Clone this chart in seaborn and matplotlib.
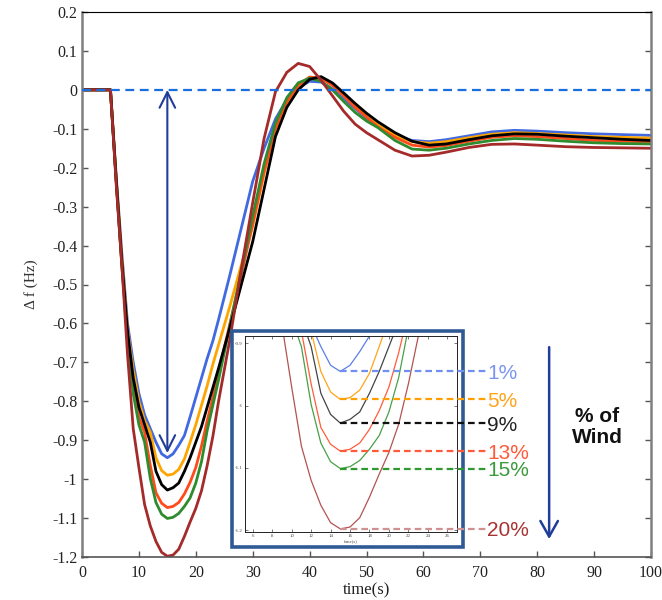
import numpy as np
import pandas as pd
import matplotlib
matplotlib.use("Agg")
import matplotlib.pyplot as plt
import seaborn as sns
from matplotlib.patches import Rectangle

# ---------------- data ----------------
time_s = [0, 5, 6, 7, 8, 9, 10, 11, 12, 13, 14, 15, 16, 17, 18, 19, 20, 21, 22, 23, 24,
          26, 28, 30, 32, 34, 36, 38, 40, 42, 44, 46, 48, 50, 52,
          55, 58, 61, 64, 68, 72, 76, 80, 85, 90, 95, 100]

wind_1 = [0, 0, -0.22, -0.42, -0.60, -0.70, -0.78, -0.835, -0.87, -0.905, -0.935, -0.945, -0.935,
          -0.913, -0.888, -0.84, -0.79, -0.74, -0.69, -0.645, -0.59,
          -0.475, -0.355, -0.235, -0.15, -0.075, -0.025, 0.005, 0.022, 0.02, 0.003, -0.022, -0.048, -0.073, -0.094,
          -0.117, -0.13, -0.133, -0.128, -0.118, -0.108, -0.104, -0.106, -0.11, -0.113, -0.115, -0.117]

wind_5 = [0, 0, -0.225, -0.43, -0.615, -0.72, -0.80, -0.85, -0.88, -0.945, -0.978, -0.99, -0.987,
          -0.975, -0.948, -0.905, -0.86, -0.81, -0.76, -0.705, -0.655,
          -0.555, -0.45, -0.35, -0.215, -0.10, -0.035, 0.01, 0.031, 0.03, 0.012, -0.015, -0.042, -0.068, -0.09,
          -0.117, -0.133, -0.137, -0.133, -0.123, -0.114, -0.11, -0.112, -0.116, -0.12, -0.122, -0.124]

wind_9 = [0, 0, -0.23, -0.44, -0.62, -0.74, -0.815, -0.86, -0.905, -0.98, -1.014, -1.028, -1.022,
          -1.01, -0.98, -0.945, -0.905, -0.865, -0.815, -0.765, -0.715,
          -0.61, -0.50, -0.39, -0.255, -0.12, -0.045, 0.0, 0.027, 0.034, 0.018, -0.008, -0.035, -0.06, -0.082,
          -0.11, -0.132, -0.142, -0.139, -0.128, -0.118, -0.113, -0.114, -0.119, -0.123, -0.127, -0.13]

wind_13 = [0, 0, -0.23, -0.45, -0.63, -0.76, -0.84, -0.88, -0.965, -1.035, -1.062, -1.073, -1.07,
           -1.06, -1.038, -1.008, -0.97, -0.915, -0.85, -0.79, -0.725,
           -0.60, -0.475, -0.345, -0.21, -0.10, -0.03, 0.012, 0.033, 0.03, 0.012, -0.015, -0.045, -0.07, -0.095,
           -0.122, -0.142, -0.147, -0.143, -0.132, -0.122, -0.118, -0.12, -0.125, -0.13, -0.132, -0.134]

wind_15 = [0, 0, -0.23, -0.45, -0.64, -0.78, -0.86, -0.905, -0.998, -1.06, -1.09, -1.101, -1.098,
           -1.088, -1.07, -1.048, -1.01, -0.955, -0.875, -0.81, -0.745,
           -0.605, -0.465, -0.325, -0.19, -0.085, -0.02, 0.018, 0.03, 0.022, 0.0, -0.03, -0.058, -0.08, -0.097,
           -0.13, -0.152, -0.155, -0.15, -0.139, -0.13, -0.125, -0.127, -0.132, -0.136, -0.138, -0.139]

wind_20 = [0, 0, -0.24, -0.45, -0.68, -0.87, -0.97, -1.065, -1.12, -1.16, -1.188, -1.198, -1.195,
           -1.18, -1.147, -1.11, -1.075, -1.03, -0.965, -0.89, -0.80,
           -0.64, -0.46, -0.29, -0.125, -0.005, 0.045, 0.068, 0.06, 0.025, -0.015, -0.055, -0.088, -0.11, -0.128,
           -0.155, -0.17, -0.168, -0.16, -0.148, -0.14, -0.139, -0.142, -0.146, -0.148, -0.149, -0.15]

series_labels = ["1%", "5%", "9%", "13%", "15%", "20%"]
series_values = [wind_1, wind_5, wind_9, wind_13, wind_15, wind_20]

xticks = [0, 10, 20, 30, 40, 50, 60, 70, 80, 90, 100]
yticks = [0.2, 0.1, 0, -0.1, -0.2, -0.3, -0.4, -0.5, -0.6, -0.7, -0.8, -0.9, -1.0, -1.1, -1.2]
ytick_labels = ["0.2", "0.1", "0", "-0.1", "-0.2", "-0.3", "-0.4", "-0.5", "-0.6", "-0.7",
                "-0.8", "-0.9", "-1", "-1.1", "-1.2"]
inset_xticks = [6, 8, 10, 12, 14, 16, 18, 20, 22, 24, 26]
inset_yticks = [-0.9, -1.0, -1.1, -1.2]
inset_ytick_labels = ["-0.9", "-1", "-1.1", "-1.2"]

# ---------------- styles ----------------
main_colors = {"1%": "#4169e1", "5%": "#ffa500", "9%": "#000000",
               "13%": "#ff4a1a", "15%": "#2e8b2e", "20%": "#a52a2a"}
inset_colors = {"1%": "#5b7fe8", "5%": "#ffa31a", "9%": "#444444",
                "13%": "#ff5c3a", "15%": "#48a048", "20%": "#b35252"}
dash_colors = {"1%": "#7090f0", "5%": "#ffa000", "9%": "#111111",
               "13%": "#ff5a3a", "15%": "#2e9a2e", "20%": "#d09090"}
label_colors = {"1%": "#7b96f0", "5%": "#ffa31a", "9%": "#222222",
                "13%": "#ff5a3a", "15%": "#3a9a3a", "20%": "#a83232"}
draw_order = ["1%", "5%", "13%", "15%", "9%", "20%"]

sns.set_style("white")
plt.rcParams['font.family'] = ['Liberation Serif', 'DejaVu Serif']

df = pd.DataFrame({
    "t": np.tile(time_s, len(series_labels)),
    "df": np.concatenate(series_values),
    "wind": np.repeat(series_labels, len(time_s)),
})

fig = plt.figure(figsize=(6.62, 6.0), dpi=100)
ax = fig.add_axes([82 / 662, 43 / 600, 569 / 662, 545 / 600])

sns.lineplot(data=df, x="t", y="df", hue="wind", hue_order=draw_order,
             palette=main_colors, linewidth=2.0, legend=False, ax=ax, sort=False,
             estimator=None)
ax.axhline(0, color="#1a6fe0", lw=1.6, ls=(0, (4, 2.5)), zorder=5)

ax.set_xlim(0, 100)
ax.set_ylim(-1.2, 0.2)
ax.set_xticks(xticks)
ax.set_xticklabels([str(v) for v in xticks])
ax.set_yticks(yticks)
ax.set_yticklabels(ytick_labels)
ax.tick_params(direction="in", length=4, width=1, color="#555555", labelcolor="#222222",
               labelsize=11.5, left=True, bottom=True, right=True, top=False)
ax.tick_params(axis="x", pad=6)
ax.set_xlabel("time(s)", fontsize=12, color="#222222", labelpad=1)
ax.set_ylabel("Δ f (Hz)", fontsize=11, color="#333333", labelpad=10)
for side in ["left", "right"]:
    ax.spines[side].set_color("#808080")
    ax.spines[side].set_linewidth(1.8)
ax.spines["bottom"].set_color("#555555")
ax.spines["bottom"].set_linewidth(1.2)
ax.spines["top"].set_color("#000000")
ax.spines["top"].set_linewidth(0.8)

# double arrow to the 1% minimum
i_min = int(np.argmin(wind_1))
ax.annotate("", xy=(time_s[i_min], wind_1[i_min] + 0.012), xytext=(time_s[i_min], 0.0),
            arrowprops=dict(arrowstyle="<->,head_length=0.8,head_width=0.4", color="#1f3d99",
                            lw=1.5, mutation_scale=14, shrinkA=0, shrinkB=0), zorder=6)

# "% of Wind" text with down arrow
ax.text(90.5, -0.866, "% of\nWind", ha="center", va="center", fontsize=15,
        fontweight="bold", family=["Liberation Sans", "DejaVu Sans"], color="#111111",
        linespacing=1.15)
ax.annotate("", xy=(82.1, -1.154), xytext=(82.1, -0.661),
            arrowprops=dict(arrowstyle="->,head_length=0.8,head_width=0.45", color="#1f3d99",
                            lw=1.8, mutation_scale=14, shrinkA=0, shrinkB=0))

# inset frame box
box = Rectangle((232 / 662, 1 - 547 / 600), (463 - 232) / 662, (547 - 331) / 600,
                transform=fig.transFigure, facecolor="white", edgecolor="#2f5a94",
                linewidth=2.6, zorder=2)
fig.add_artist(box)

ax_in = fig.add_axes([245 / 662, 68 / 600, 212 / 662, 196 / 600])
ax_in.set_zorder(3)
sns.lineplot(data=df, x="t", y="df", hue="wind", hue_order=draw_order,
             palette=inset_colors, linewidth=0.9, legend=False, ax=ax_in, sort=False,
             estimator=None)
ax_in.set_xlim(5.2, 27.0)
ax_in.set_ylim(-1.203, -0.888)
ax_in.set_xticks(inset_xticks)
ax_in.set_xticklabels([str(v) for v in inset_xticks])
ax_in.set_yticks(inset_yticks)
ax_in.set_yticklabels(inset_ytick_labels)
ax_in.tick_params(direction="in", length=2, width=0.5, labelsize=3.5, pad=1.5,
                  top=True, right=True, left=True, bottom=True, colors="#444444")
ax_in.set_xlabel("time(s)", fontsize=3.5, labelpad=0.5, color="#444444")
ax_in.set_ylabel("")
for s in ax_in.spines.values():
    s.set_color("#222222")
    s.set_linewidth(0.7)

# dashed markers of each minimum + labels
x_end = 30.0
for lab, vals in zip(series_labels, series_values):
    k = int(np.argmin(vals))
    ax_in.plot([time_s[k], x_end], [vals[k], vals[k]], ls=(0, (3, 1.8)), lw=1.6,
               color=dash_colors[lab], clip_on=False, zorder=6)
    ax_in.text(x_end + 0.1, vals[k], lab, ha="left", va="center_baseline", fontsize=15,
               family=["Liberation Sans", "DejaVu Sans"], color=label_colors[lab],
               clip_on=False, zorder=7)

fig.savefig("out.png", dpi=100)
